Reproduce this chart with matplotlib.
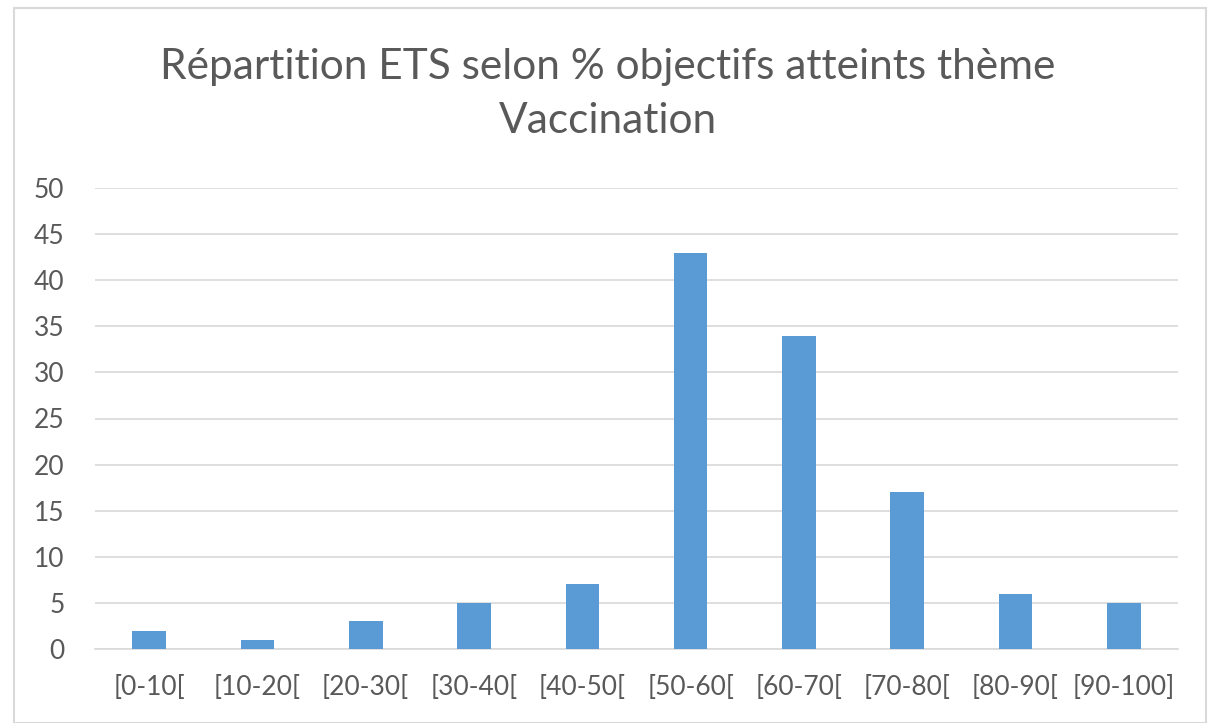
import matplotlib
matplotlib.use("Agg")
import matplotlib.pyplot as plt
from matplotlib.patches import Rectangle

categories = ["[0-10[", "[10-20[", "[20-30[", "[30-40[", "[40-50[",
              "[50-60[", "[60-70[", "[70-80[", "[80-90[", "[90-100]"]
values = [2, 1, 3, 5, 7, 43, 34, 17, 6, 5]
yticks = [0, 5, 10, 15, 20, 25, 30, 35, 40, 45, 50]
title = "Répartition ETS selon % objectifs atteints thème\nVaccination"

plt.rcParams['font.family'] = ['Lato', 'DejaVu Sans']

fig = plt.figure(figsize=(12.16, 7.23), dpi=100)
fig.patch.set_facecolor('white')
fig.patches.append(Rectangle((14/1216, 0.0), (1206-14)/1216, 1 - 8/723,
                             transform=fig.transFigure, fill=False,
                             edgecolor='#d9d9d9', linewidth=1.5))

ax = fig.add_axes([95/1216, 1 - 649/723, (1178-95)/1216, (649-188)/723])
x = list(range(len(categories)))
ax.bar(x, values, width=0.31, color='#5b9bd5', zorder=3)
ax.set_xlim(-0.5, len(categories) - 0.5)
ax.set_ylim(0, 50)
ax.set_yticks(yticks)
ax.set_xticks(x)
ax.set_xticklabels(categories)
ax.yaxis.grid(True, color='#d9d9d9', linewidth=1.2, zorder=0)
for s in ['top', 'right', 'left']:
    ax.spines[s].set_visible(False)
ax.spines['bottom'].set_color('#d9d9d9')
ax.spines['bottom'].set_linewidth(1.2)
ax.tick_params(axis='both', length=0, labelsize=19, labelcolor='#595959')
ax.tick_params(axis='y', pad=22)
ax.tick_params(axis='x', pad=19)

fig.text(0.5, 1 - 94/723, title, ha='center', va='center', fontsize=30.5,
         color='#595959', linespacing=1.5)

fig.savefig("out.png", dpi=100, facecolor='white')
